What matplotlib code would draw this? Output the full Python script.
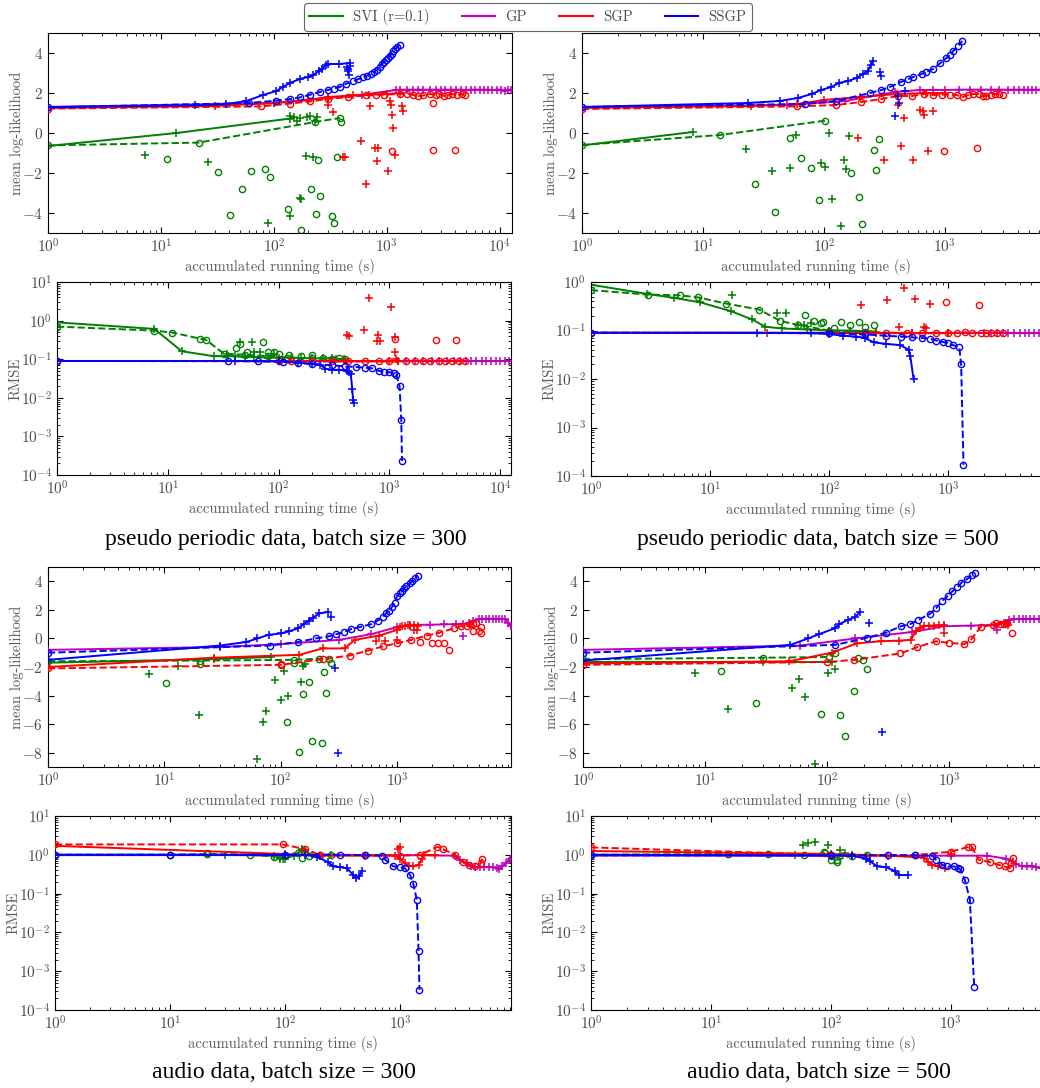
import matplotlib
matplotlib.use("Agg")
import matplotlib.pyplot as plt
import matplotlib.transforms as mtransforms
from matplotlib.lines import Line2D

# ---- data: (time, value) pairs ----
# pseudo periodic, batch 300, mean log-likelihood
ll_pp300_svi_line = [(1, -0.65), (13.7, 0.0), (138, 0.72), (150, 0.78)]
ll_pp300_svi_dash = [(1, -0.62), (21.6, -0.48), (230, 0.55), (385, 0.75)]
ll_pp300_svi_plus = [(140, 0.85), (160, 0.6), (170, 0.75), (195, 0.8), (210, 0.85), (230, 0.58), (240, 0.82),
                     (7.2, -1.1), (26, -1.45), (89, -4.5), (138, -4.15), (170, -3.25), (175, -3.3), (194, -1.15), (222, -1.2)]
ll_pp300_svi_circ = [(11.2, -1.3), (32, -1.95), (40.6, -4.1), (52.6, -2.8), (63, -1.9), (83, -1.8), (93, -2.2), (134, -3.8),
                     (175, -4.85), (214, -2.8), (235, -4.05), (246, -1.35), (258, -3.15), (327, -4.15), (339, -4.5),
                     (358, -1.2), (390, 0.55)]
ll_pp300_gp_line = [(1, 1.3), (100, 1.5), (300, 1.75), (600, 1.9), (1200, 2.15), (1300, 2.17), (1500, 2.17), (1700, 2.17),
                    (1900, 2.17), (2100, 2.17), (2400, 2.17), (2700, 2.17), (3000, 2.17), (3300, 2.17), (3700, 2.17),
                    (4100, 2.17), (4500, 2.17), (5000, 2.15), (5500, 2.17), (6000, 2.17), (6600, 2.17), (7200, 2.17),
                    (7900, 2.17), (8600, 2.15), (9400, 2.17), (10200, 2.17), (11000, 2.1), (11800, 2.17), (12600, 2.15)]
ll_pp300_sgp_line = [(1, 1.25), (30, 1.35), (100, 1.5), (200, 1.65), (300, 1.8), (500, 1.88), (700, 1.92), (1000, 1.95), (1300, 2.0)]
ll_pp300_sgp_dash = [(1, 1.22), (77, 1.33), (138, 1.47), (207, 1.58), (300, 1.7), (455, 1.8), (650, 1.88), (800, 1.9),
                     (950, 1.92), (1300, 1.95), (1500, 1.97), (1700, 1.9), (1900, 1.85), (2100, 1.88), (2400, 1.95),
                     (2700, 1.9), (2900, 1.95), (3200, 1.85), (3500, 1.9), (3800, 1.95), (4200, 1.9), (4600, 1.95), (4900, 1.88)]
ll_pp300_sgp_plus = [(302, 1.4), (334, 1.05), (410, -1.2), (425, -1.2), (589, -0.4), (650, -2.55), (708, 1.35), (779, -0.75),
                     (810, -1.4), (830, -0.75), (1025, -1.9), (1067, 1.6), (1085, 1.4), (1098, 0.9), (1137, 0.25),
                     (1175, -1.1), (1350, 1.35), (1380, 1.1)]
ll_pp300_sgp_circ = [(1098, -0.9), (2570, -0.85), (3980, -0.85), (2570, 1.5)]
ll_pp300_ssgp_line = [(1, 1.3), (20, 1.38), (38, 1.45), (57, 1.6), (80, 1.9), (105, 2.1), (120, 2.3), (138, 2.5), (170, 2.7),
                      (200, 2.8), (223, 2.9), (250, 3.1), (264, 3.2), (290, 3.4), (302, 3.45), (380, 3.45), (470, 3.5)]
ll_pp300_ssgp_plus = [(440, 3.3), (455, 3.1), (460, 2.9), (450, 3.2), (470, 3.35)]
ll_pp300_ssgp_dash = [(1, 1.28), (60, 1.5), (105, 1.62), (140, 1.7), (170, 1.78), (210, 1.92), (255, 2.05), (300, 2.15),
                      (340, 2.22), (383, 2.3), (430, 2.45), (503, 2.58), (560, 2.7), (620, 2.78), (660, 2.85), (720, 2.95),
                      (770, 3.05), (810, 3.15), (860, 3.3), (900, 3.45), (940, 3.55), (980, 3.65), (1020, 3.75),
                      (1060, 3.85), (1100, 3.95), (1140, 4.08), (1190, 4.2), (1240, 4.3), (1300, 4.42)]

# pseudo periodic, batch 500, mean log-likelihood
ll_pp500_svi_line = [(1, -0.62), (8.3, 0.05)]
ll_pp500_svi_dash = [(1, -0.6), (13.8, -0.1), (103, 0.62)]
ll_pp500_svi_plus = [(22.9, -0.8), (37, -1.9), (52, -1.75), (59, -0.1), (95, -1.5), (103, -1.7), (110, 0.0), (117, -3.3),
                     (138, -4.65), (146, -1.35), (153, -1.8), (161, -0.15)]
ll_pp500_svi_circ = [(26.8, -2.55), (39.5, -3.95), (52, -0.25), (65, -1.25), (78, -1.75), (91, -3.35), (167, -2.0),
                     (194, -3.2), (207, -4.55), (258, -0.85), (272, -1.85), (284, -0.3)]
ll_pp500_gp_line = [(1, 1.3), (50, 1.4), (150, 1.6), (386, 2.05), (620, 2.15), (800, 2.15), (1000, 2.15), (1300, 2.17),
                    (1600, 2.17), (2000, 2.17), (2400, 2.17), (2800, 2.17), (3300, 2.17), (3700, 2.17), (4100, 2.17),
                    (4500, 2.17), (4900, 2.17), (5300, 2.17), (5700, 2.17), (6200, 2.17), (6800, 2.17), (7300, 2.17)]
ll_pp500_sgp_line = [(1, 1.25), (25, 1.35), (60, 1.45), (100, 1.65), (200, 1.8), (400, 1.95), (700, 2.0), (1000, 2.0)]
ll_pp500_sgp_dash = [(1, 1.2), (60, 1.33), (127, 1.4), (204, 1.55), (299, 1.7), (411, 1.85), (538, 1.85), (677, 1.95),
                     (800, 1.9), (950, 1.92), (1100, 1.92), (1250, 1.9), (1400, 1.8), (1550, 1.9), (1700, 1.95),
                     (1900, 1.95), (2050, 1.85), (2200, 1.85), (2400, 1.92), (2600, 1.95), (2800, 1.95), (3000, 1.9)]
ll_pp500_sgp_plus = [(192, -0.25), (313, -1.35), (406, 1.4), (432, -0.65), (460, 0.75), (547, -1.35), (621, 1.15),
                     (661, 1.1), (676, 0.9), (728, -0.9), (800, 1.1)]
ll_pp500_sgp_circ = [(986, -0.9), (1850, -0.75)]
ll_pp500_ssgp_line = [(1, 1.3), (23.5, 1.5), (43, 1.6), (61, 1.75), (79, 1.95), (95, 2.15), (115, 2.3), (133, 2.5),
                      (158, 2.6), (186, 2.75), (210, 2.95), (232, 3.1), (243, 3.4), (255, 3.6)]
ll_pp500_ssgp_plus = [(290, 3.05), (299, 2.85), (390, 0.85), (411, 1.85), (419, 1.5), (472, 2.1)]
ll_pp500_ssgp_dash = [(1, 1.3), (69.5, 1.45), (126, 1.6), (240, 2.0), (299, 2.15), (351, 2.3), (432, 2.55), (500, 2.7),
                      (547, 2.8), (641, 2.95), (692, 3.05), (800, 3.2), (920, 3.5), (1030, 3.75), (1100, 3.9),
                      (1173, 4.1), (1290, 4.35), (1390, 4.6)]

# pseudo periodic, batch 300, RMSE
rm_pp300_svi_line = [(1, 0.9), (7.55, 0.61), (13.4, 0.16), (26, 0.12), (35, 0.12), (50, 0.115), (60, 0.115), (80, 0.11),
                     (100, 0.11), (130, 0.11), (160, 0.108), (200, 0.105), (250, 0.105), (300, 0.105), (330, 0.103), (386, 0.1)]
rm_pp300_svi_dash = [(1, 0.7), (7.5, 0.55), (11, 0.49), (19.6, 0.34), (22, 0.32), (32, 0.14), (50, 0.13), (80, 0.12),
                     (120, 0.11), (200, 0.105), (300, 0.1), (400, 0.1)]
rm_pp300_svi_plus = [(34, 0.14), (45, 0.28), (57, 0.28), (60, 0.15), (68, 0.15), (40, 0.12), (90, 0.14)]
rm_pp300_svi_circ = [(41.5, 0.2), (45, 0.25), (52, 0.15), (73, 0.28), (80, 0.15), (90, 0.15), (100, 0.14), (125, 0.13),
                     (200, 0.13), (160, 0.12), (250, 0.11), (350, 0.11)]
rm_pp300_gp_line = [(1, 0.09), (100, 0.09), (1200, 0.09), (1400, 0.09), (1700, 0.09), (2000, 0.09), (2400, 0.09),
                    (2800, 0.09), (3300, 0.09), (3800, 0.09), (4300, 0.09), (4900, 0.09), (5500, 0.09), (6100, 0.09),
                    (6800, 0.09), (7500, 0.09), (8300, 0.09), (9100, 0.09), (10000, 0.09), (11000, 0.09), (12000, 0.09)]
rm_pp300_sgp_line = [(1, 0.09), (100, 0.09), (400, 0.088), (1000, 0.088), (1200, 0.088)]
rm_pp300_sgp_dash = [(1, 0.09), (100, 0.088), (130, 0.088), (200, 0.088), (300, 0.088), (420, 0.088), (600, 0.088),
                     (800, 0.088), (1000, 0.088), (1400, 0.088), (1700, 0.09), (2000, 0.088), (2300, 0.088),
                     (2800, 0.09), (3200, 0.088), (3700, 0.09), (4200, 0.088), (4800, 0.088)]
rm_pp300_sgp_plus = [(414, 0.43), (430, 0.4), (585, 0.57), (649, 3.8), (787, 0.43), (780, 0.3), (830, 0.3), (1031, 2.2),
                     (1129, 0.37), (1130, 0.15), (1150, 0.1)]
rm_pp300_sgp_circ = [(1120, 0.33), (2640, 0.32), (3980, 0.32)]
rm_pp300_ssgp_line = [(1, 0.09), (40, 0.09), (100, 0.088), (150, 0.082), (200, 0.075), (238, 0.072), (263, 0.057),
                      (300, 0.053), (350, 0.053), (414, 0.05), (430, 0.046), (448, 0.041), (462, 0.0165), (470, 0.0086),
                      (475, 0.0075)]
rm_pp300_ssgp_dash = [(1, 0.09), (35, 0.09), (65, 0.088), (110, 0.085), (150, 0.08), (200, 0.075), (300, 0.07),
                      (400, 0.065), (500, 0.063), (600, 0.06), (700, 0.058), (800, 0.05), (900, 0.048), (1000, 0.046),
                      (1100, 0.044), (1150, 0.04), (1234, 0.02), (1279, 0.0026), (1298, 0.00023)]

# pseudo periodic, batch 500, RMSE
rm_pp500_svi_line = [(1, 0.88), (2.94, 0.57), (5, 0.47), (8.3, 0.38), (15, 0.25), (22.5, 0.17), (29, 0.12), (40, 0.11),
                     (65, 0.105), (100, 0.1), (150, 0.1), (250, 0.095)]
rm_pp500_svi_dash = [(1, 0.68), (3, 0.55), (5.6, 0.53), (8, 0.48), (13.6, 0.36), (26, 0.27), (39, 0.157), (55, 0.13),
                     (100, 0.1), (200, 0.095)]
rm_pp500_svi_plus = [(15.3, 0.55), (36.5, 0.23), (43.7, 0.23), (55, 0.13), (62, 0.13), (70, 0.14)]
rm_pp500_svi_circ = [(63, 0.21), (75.5, 0.16), (85, 0.14), (89, 0.15), (126, 0.15), (150, 0.13), (178, 0.15), (200, 0.12),
                     (240, 0.13), (110, 0.11)]
rm_pp500_gp_line = [(1, 0.088), (100, 0.088), (500, 0.088), (1000, 0.088), (2000, 0.088), (2300, 0.088), (2600, 0.088),
                    (2900, 0.088), (3200, 0.088), (3600, 0.088), (4000, 0.088), (4400, 0.088), (4800, 0.088),
                    (5300, 0.088), (5800, 0.088), (6300, 0.088), (6900, 0.088), (7400, 0.088)]
rm_pp500_sgp_line = [(1, 0.09), (30, 0.09), (100, 0.09), (250, 0.088), (500, 0.088), (1000, 0.088)]
rm_pp500_sgp_dash = [(1, 0.09), (200, 0.088), (300, 0.09), (450, 0.09), (600, 0.088), (800, 0.09), (1000, 0.088),
                     (1200, 0.09), (1400, 0.092), (1600, 0.09), (1900, 0.088), (2100, 0.09), (2300, 0.088),
                     (2600, 0.09), (2900, 0.088)]
rm_pp500_sgp_plus = [(187, 0.34), (307, 0.42), (429, 0.76), (531, 0.45), (710, 0.35), (390, 0.12), (624, 0.12), (650, 0.11)]
rm_pp500_sgp_circ = [(968, 0.39), (1810, 0.33)]
rm_pp500_ssgp_line = [(1, 0.09), (25, 0.09), (70, 0.088), (100, 0.085), (130, 0.078), (170, 0.075), (200, 0.07),
                      (237, 0.057), (300, 0.053), (398, 0.05), (467, 0.04), (482, 0.03), (514, 0.0098)]
rm_pp500_ssgp_dash = [(1, 0.09), (100, 0.088), (200, 0.083), (300, 0.078), (400, 0.075), (500, 0.072), (600, 0.07),
                      (700, 0.068), (800, 0.062), (900, 0.058), (1000, 0.056), (1100, 0.05), (1245, 0.045),
                      (1290, 0.02), (1350, 0.00017)]

# audio, batch 300, mean log-likelihood
ll_au300_svi_line = [(1, -1.7), (26.6, -1.45), (82, -1.3)]
ll_au300_svi_dash = [(1, -1.6), (20.4, -1.55), (130, -1.5), (214, -1.42), (260, -1.45)]
ll_au300_svi_plus = [(7.4, -2.5), (13, -1.9), (19.8, -5.35), (63, -8.45), (70, -5.82), (75, -5.1), (89, -2.9),
                     (100, -4.28), (107, -2.25), (115, -4.0), (149, -3.05), (154, -1.9), (160, -1.8)]
ll_au300_svi_circ = [(10.4, -3.1), (20.4, -1.8), (113, -5.85), (130, -1.75), (142, -7.95), (154, -3.9), (173, -3.05),
                     (184, -7.15), (225, -7.3), (237, -2.35), (245, -3.8), (270, -1.7)]
ll_au300_gp_line = [(1, -0.8), (30, -0.6), (100, -0.4), (318, -0.1), (600, 0.3), (1000, 0.8), (1300, 0.95), (1900, 0.96),
                    (2500, 0.98), (3200, 1.0), (3700, 1.0), (4100, 1.1), (4500, 1.25), (5000, 1.35), (5400, 1.38),
                    (5800, 1.38), (6200, 1.38), (6600, 1.38), (7000, 1.38), (7500, 1.38), (8000, 1.38), (8500, 1.36),
                    (9000, 1.1), (9500, 0.85)]
ll_au300_gp_plus = [(3640, 0.2)]
ll_au300_sgp_line = [(1, -2.0), (26.6, -1.35), (144, -1.15), (229, -0.7), (353, -0.7), (431, -0.1), (700, 0.2),
                     (1000, 0.6), (1050, 0.8), (1100, 0.85), (1175, 0.9), (1250, 0.92), (1300, 0.9), (1400, 0.92), (1500, 0.9)]
ll_au300_sgp_dash = [(1, -2.1), (100, -1.85), (229, -1.45), (390, -1.2), (562, -0.85), (757, -0.55), (988, -0.35),
                     (1320, -0.1), (1800, 0.2), (2300, 0.4), (3050, 0.7), (3500, 0.85), (4000, 0.9), (4500, 1.0), (4800, 1.1)]
ll_au300_sgp_plus = [(663, -0.15), (783, -0.15), (988, -0.1), (1394, 0.56), (1480, 0.6)]
ll_au300_sgp_circ = [(100, -1.8), (1570, -0.25), (1980, -0.3), (2240, -0.35), (2510, -0.35), (2810, -0.8), (4200, 1.0),
                     (4500, 0.5), (5070, 0.5), (5300, 0.8), (5200, 0.35)]
ll_au300_ssgp_line = [(1, -1.5), (29.8, -0.5), (50.7, -0.25), (63, 0.0), (78.5, 0.25), (100, 0.35), (118, 0.5), (140, 0.7),
                      (157, 1.0), (175, 1.25), (188, 1.45), (215, 1.75), (254, 1.85)]
ll_au300_ssgp_plus = [(271, 1.5), (290, -2.1), (310, -8.0)]
ll_au300_ssgp_dash = [(1, -1.0), (80, -0.5), (140, -0.25), (200, 0.0), (260, 0.15), (300, 0.3), (350, 0.45), (400, 0.65),
                      (480, 0.8), (600, 1.0), (680, 1.25), (750, 1.5), (800, 1.75), (850, 1.9), (900, 2.2), (950, 2.5),
                      (1000, 3.0), (1050, 3.15), (1100, 3.3), (1150, 3.5), (1200, 3.7), (1280, 3.85), (1350, 4.0),
                      (1420, 4.2), (1500, 4.4)]

# audio, batch 500, mean log-likelihood
ll_au500_svi_line = [(1, -1.65), (30, -1.65), (109, -1.65)]
ll_au500_svi_dash = [(1, -1.45), (30, -1.35), (103, -1.3), (115, -1.0)]
ll_au500_svi_plus = [(8.2, -2.4), (15.5, -4.95), (51.6, -3.5), (59, -2.85), (66, -4.1), (80, -8.8), (102, -2.45), (117, -2.15)]
ll_au500_svi_circ = [(13.6, -2.25), (26, -4.5), (89, -5.3), (127, -5.35), (140, -6.8), (165, -3.65), (178, -1.35),
                     (195, -1.5), (212, -2.15)]
ll_au500_gp_line = [(1, -0.8), (60, -0.5), (170, 0.0), (500, 0.45), (900, 0.85), (1500, 0.9), (2340, 0.95), (2800, 1.1),
                    (3100, 1.3), (3400, 1.35), (3700, 1.35), (4000, 1.35), (4300, 1.35), (4600, 1.35), (5000, 1.35),
                    (5400, 1.35), (5800, 1.35), (6300, 1.35), (6900, 1.35), (7400, 1.35)]
ll_au500_gp_plus = [(2480, 0.6)]
ll_au500_sgp_line = [(1, -1.75), (49, -1.6), (109, -1.0), (175, -0.35), (275, -0.2), (390, -0.15), (486, -0.1), (533, 0.5),
                     (580, 0.75), (620, 0.85), (680, 0.9), (750, 0.9), (820, 0.92), (900, 0.92)]
ll_au500_sgp_dash = [(1, -1.85), (100, -1.65), (167, -1.5), (398, -1.05), (550, -0.6), (777, -0.2), (988, -0.3),
                     (1330, -0.4), (1520, -0.05), (1810, 0.8), (2300, 0.95), (2600, 1.0), (3000, 1.05)]
ll_au500_sgp_plus = [(910, 0.35), (2900, 1.05), (3050, 0.95)]
ll_au500_sgp_circ = [(2400, 1.05), (2800, 1.0), (3300, 0.35)]
ll_au500_ssgp_line = [(1, -1.55), (50, -0.45), (70, 0.0), (86, 0.3), (115, 0.7), (126, 1.0), (148, 1.3), (170, 1.5), (186, 1.85)]
ll_au500_ssgp_plus = [(221, 1.05), (279, -6.55)]
ll_au500_ssgp_dash = [(1, -1.0), (117, -0.45), (214, 0.05), (303, 0.4), (402, 0.85), (480, 1.0), (560, 1.3), (690, 1.7),
                      (780, 2.1), (870, 2.6), (980, 3.0), (1064, 3.3), (1170, 3.6), (1260, 3.9), (1400, 4.15),
                      (1550, 4.45), (1620, 4.6)]

# audio, batch 300, RMSE
rm_au300_svi_line = [(1, 1.0), (30, 1.0), (80, 0.95), (90, 0.85), (100, 0.8), (120, 0.95), (140, 1.3), (150, 1.25),
                     (170, 1.0), (200, 0.95), (250, 1.0)]
rm_au300_svi_dash = [(1, 1.0), (10, 1.0), (21, 1.05), (50, 1.0), (80, 0.9), (100, 0.95), (130, 1.1), (160, 0.95),
                     (200, 1.0), (250, 1.0)]
rm_au300_svi_plus = [(140, 1.45), (150, 1.35), (90, 0.8), (95, 0.78)]
rm_au300_svi_circ = [(21, 1.1), (140, 0.85)]
rm_au300_gp_line = [(1, 0.98), (100, 0.98), (1000, 0.98), (3000, 0.95), (3300, 0.75), (3800, 0.6), (4100, 0.5),
                    (4500, 0.48), (4900, 0.48), (5400, 0.48), (5900, 0.48), (6400, 0.48), (6900, 0.45), (7200, 0.42),
                    (7700, 0.5), (8300, 0.6), (9000, 0.79)]
rm_au300_sgp_line = [(1, 1.7), (100, 1.05), (200, 0.95), (500, 0.95), (900, 0.95), (1000, 0.8), (1100, 0.6), (1200, 0.52),
                     (1300, 0.5), (1450, 0.55), (1550, 0.8), (1600, 1.0), (2000, 0.98)]
rm_au300_sgp_dash = [(1, 1.85), (95, 1.85), (150, 1.4), (200, 1.0), (500, 0.98), (1000, 0.95), (1500, 1.0), (2110, 1.6),
                     (2350, 1.4), (3000, 1.0), (3500, 0.65), (4000, 0.55), (4500, 0.5), (5000, 0.6), (5200, 0.8)]
rm_au300_sgp_plus = [(950, 1.4), (1000, 1.55)]
rm_au300_ssgp_line = [(1, 1.0), (100, 1.0), (150, 1.0), (188, 0.9), (235, 0.65), (263, 0.5), (300, 0.48), (344, 0.45),
                      (393, 0.3), (414, 0.25), (440, 0.28), (464, 0.38)]
rm_au300_ssgp_dash = [(1, 1.0), (10, 1.0), (100, 1.0), (300, 1.0), (500, 0.98), (700, 0.95), (741, 0.75), (875, 0.5),
                      (1000, 0.48), (1100, 0.45), (1222, 0.3), (1300, 0.18), (1396, 0.07), (1445, 0.0034), (1473, 0.00033)]

# audio, batch 500, RMSE
rm_au500_svi_line = [(1, 1.0), (50, 1.0), (100, 1.0), (150, 1.0), (200, 0.95)]
rm_au500_svi_dash = [(1, 1.0), (14, 1.05), (30, 1.05), (60, 1.0), (90, 1.1), (100, 0.95), (113, 0.75), (150, 0.95), (200, 1.0)]
rm_au500_svi_plus = [(58.5, 1.74), (65, 2.0), (74, 2.15), (94, 1.8), (120, 1.3), (130, 1.1)]
rm_au500_svi_circ = [(87, 1.2), (100, 0.75), (113, 0.65), (14, 1.05)]
rm_au500_gp_line = [(1, 0.95), (100, 0.95), (1000, 0.95), (2000, 0.95), (2860, 0.8), (3470, 0.59), (3900, 0.5),
                    (4300, 0.5), (4700, 0.5), (5100, 0.48), (5600, 0.45), (6100, 0.42)]
rm_au500_sgp_line = [(1, 1.25), (100, 1.05), (300, 0.95), (600, 0.85), (650, 0.65), (700, 0.55), (780, 0.5), (900, 0.45)]
rm_au500_sgp_dash = [(1, 1.55), (100, 1.0), (500, 0.98), (1000, 1.2), (1400, 1.6), (1500, 1.6), (1700, 0.75), (2100, 0.65),
                     (2500, 0.55), (2800, 0.5), (3100, 0.45), (3200, 0.6), (3300, 0.85)]
rm_au500_sgp_plus = [(1000, 1.05)]
rm_au500_ssgp_line = [(1, 1.0), (150, 0.95), (195, 0.8), (210, 0.7), (243, 0.5), (288, 0.48), (340, 0.38), (371, 0.3), (436, 0.3)]
rm_au500_ssgp_dash = [(1, 0.97), (100, 0.97), (300, 0.97), (500, 0.96), (700, 0.95), (750, 0.75), (850, 0.55), (930, 0.5),
                      (1070, 0.5), (1150, 0.45), (1200, 0.42), (1310, 0.22), (1440, 0.07), (1563, 0.0004)]

methods = ['SVI (r=0.1)', 'GP', 'SGP', 'SSGP']
colors = ['#007f00', '#bf00bf', '#ff0000', '#0000ff']
captions = ['pseudo periodic data, batch size = 300', 'pseudo periodic data, batch size = 500',
            'audio data, batch size = 300', 'audio data, batch size = 500']

plt.rcParams['mathtext.fontset'] = 'cm'
plt.rcParams['axes.formatter.use_mathtext'] = True
plt.rcParams['axes.unicode_minus'] = False
plt.rcParams['font.family'] = ['cmr10', 'DejaVu Serif']

W, H = 1040.0, 1088.0
fig = plt.figure(figsize=(10.4, 10.88), dpi=100)
fig.patch.set_facecolor('white')


def box(l, r, t, b):
    return [l / W, 1 - b / H, (r - l) / W, (b - t) / H]


def xy(pts):
    return [p[0] for p in pts], [p[1] for p in pts]


def draw(ax, color, line=None, dash=None, plus=None, circ=None, z=1):
    if line:
        x, y = xy(line)
        ax.plot(x, y, '-', color=color, lw=1.4, marker='+', ms=6, mew=1.1, zorder=z)
    if dash:
        x, y = xy(dash)
        ax.plot(x, y, '--', color=color, lw=1.4, marker='o', ms=4.5, mfc='none', mew=1.0, zorder=z)
    if plus:
        x, y = xy(plus)
        ax.plot(x, y, '+', color=color, ms=6, mew=1.1, zorder=z)
    if circ:
        x, y = xy(circ)
        ax.plot(x, y, 'o', color=color, ms=4.5, mfc='none', mew=1.0, zorder=z)


def style(ax, xmax, log_y, ylim, ylabel, label_x):
    ax.set_xscale('log')
    ax.set_xlim(1, xmax)
    if log_y:
        ax.set_yscale('log')
    else:
        ax.set_yticks([-8, -6, -4, -2, 0, 2, 4])
    ax.set_ylim(*ylim)
    ax.tick_params(which='both', direction='in', top=True, right=True, colors='black', labelcolor='0.3', labelsize=11)
    ax.tick_params(which='major', length=4)
    ax.tick_params(which='minor', length=2)
    ax.set_xlabel('accumulated running time (s)', fontsize=10.5, color='0.35', labelpad=2)
    ax.set_ylabel(ylabel, fontsize=10.5, color='0.35')
    # label anchor is its right edge after rotation, so add about half its height
    tr = mtransforms.blended_transform_factory(fig.transFigure, ax.transAxes)
    ax.yaxis.set_label_coords((label_x + 6) / W, 0.5, transform=tr)


panels = [
    (box(48, 512, 33, 233), 1.28e4, False, (-5, 5), 'mean log-likelihood', 18,
     [(ll_pp300_svi_line, ll_pp300_svi_dash, ll_pp300_svi_plus, ll_pp300_svi_circ),
      (ll_pp300_gp_line, None, None, None),
      (ll_pp300_sgp_line, ll_pp300_sgp_dash, ll_pp300_sgp_plus, ll_pp300_sgp_circ),
      (ll_pp300_ssgp_line, ll_pp300_ssgp_dash, ll_pp300_ssgp_plus, None)]),
    (box(582, 1050, 33, 233), 7.4e3, False, (-5, 5), 'mean log-likelihood', 552,
     [(ll_pp500_svi_line, ll_pp500_svi_dash, ll_pp500_svi_plus, ll_pp500_svi_circ),
      (ll_pp500_gp_line, None, None, None),
      (ll_pp500_sgp_line, ll_pp500_sgp_dash, ll_pp500_sgp_plus, ll_pp500_sgp_circ),
      (ll_pp500_ssgp_line, ll_pp500_ssgp_dash, ll_pp500_ssgp_plus, None)]),
    (box(57, 511, 282, 475), 1.25e4, True, (1e-4, 10), 'RMSE', 17,
     [(rm_pp300_svi_line, rm_pp300_svi_dash, rm_pp300_svi_plus, rm_pp300_svi_circ),
      (rm_pp300_gp_line, None, None, None),
      (rm_pp300_sgp_line, rm_pp300_sgp_dash, rm_pp300_sgp_plus, rm_pp300_sgp_circ),
      (rm_pp300_ssgp_line, rm_pp300_ssgp_dash, None, None)]),
    (box(591, 1050, 282, 476), 7.2e3, True, (1e-4, 1.0), 'RMSE', 551,
     [(rm_pp500_svi_line, rm_pp500_svi_dash, rm_pp500_svi_plus, rm_pp500_svi_circ),
      (rm_pp500_gp_line, None, None, None),
      (rm_pp500_sgp_line, rm_pp500_sgp_dash, rm_pp500_sgp_plus, rm_pp500_sgp_circ),
      (rm_pp500_ssgp_line, rm_pp500_ssgp_dash, None, None)]),
    (box(48, 511, 567, 767), 9.5e3, False, (-9, 5), 'mean log-likelihood', 18,
     [(ll_au300_svi_line, ll_au300_svi_dash, ll_au300_svi_plus, ll_au300_svi_circ),
      (ll_au300_gp_line, None, ll_au300_gp_plus, None),
      (ll_au300_sgp_line, ll_au300_sgp_dash, ll_au300_sgp_plus, ll_au300_sgp_circ),
      (ll_au300_ssgp_line, ll_au300_ssgp_dash, ll_au300_ssgp_plus, None)]),
    (box(583, 1050, 567, 767), 6.7e3, False, (-9, 5), 'mean log-likelihood', 553,
     [(ll_au500_svi_line, ll_au500_svi_dash, ll_au500_svi_plus, ll_au500_svi_circ),
      (ll_au500_gp_line, None, ll_au500_gp_plus, None),
      (ll_au500_sgp_line, ll_au500_sgp_dash, ll_au500_sgp_plus, ll_au500_sgp_circ),
      (ll_au500_ssgp_line, ll_au500_ssgp_dash, ll_au500_ssgp_plus, None)]),
    (box(55, 511, 816, 1010), 9.2e3, True, (1e-4, 10), 'RMSE', 15,
     [(rm_au300_svi_line, rm_au300_svi_dash, rm_au300_svi_plus, rm_au300_svi_circ),
      (rm_au300_gp_line, None, None, None),
      (rm_au300_sgp_line, rm_au300_sgp_dash, rm_au300_sgp_plus, None),
      (rm_au300_ssgp_line, rm_au300_ssgp_dash, None, None)]),
    (box(591, 1050, 816, 1010), 6.7e3, True, (1e-4, 10), 'RMSE', 550,
     [(rm_au500_svi_line, rm_au500_svi_dash, rm_au500_svi_plus, rm_au500_svi_circ),
      (rm_au500_gp_line, None, None, None),
      (rm_au500_sgp_line, rm_au500_sgp_dash, rm_au500_sgp_plus, None),
      (rm_au500_ssgp_line, rm_au500_ssgp_dash, None, None)]),
]

for rect, xmax, log_y, ylim, ylabel, label_x, series in panels:
    ax = fig.add_axes(rect)
    for k, (line, dash, plus, circ) in enumerate(series):
        draw(ax, colors[k], line, dash, plus, circ, z=2 + k)
    style(ax, xmax, log_y, ylim, ylabel, label_x)

# captions under each pair of rows
cap_pos = [(286, 540), (818, 540), (284, 1073), (819, 1073)]
for text, (cx, cy) in zip(captions, cap_pos):
    fig.text(cx / W, 1 - cy / H, text, ha='center', va='center', fontsize=17,
             family='Liberation Serif', color='black')

handles = [Line2D([], [], color=c, lw=1.5) for c in colors]
leg = fig.legend(handles, methods, loc='upper center', bbox_to_anchor=(528 / W, 1 + 4 / H), ncol=4,
                 fontsize=10.5, handlelength=2.3, columnspacing=2.2, handletextpad=0.7, frameon=True,
                 fancybox=True, borderpad=0.4)
leg.get_frame().set_edgecolor('0.25')
leg.get_frame().set_linewidth(0.8)
for t in leg.get_texts():
    t.set_color('0.3')

fig.savefig('out.png', dpi=100, facecolor='white')
